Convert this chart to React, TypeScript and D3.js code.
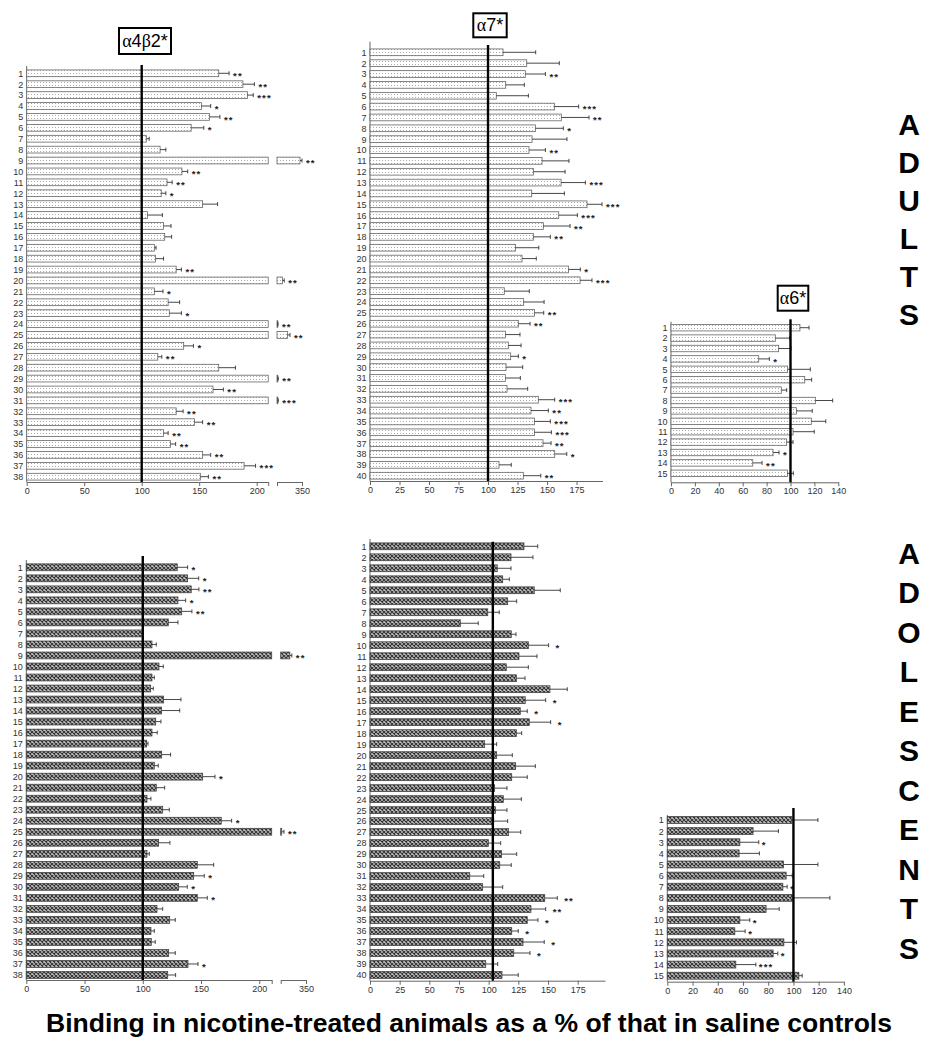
import React, { useEffect, useRef } from "react";
import * as d3 from "d3";

// Nicotinic receptor binding after nicotine, % of saline, adults (top) vs adolescents (bottom).

const ADULT_A4B2_MEAN = [167, 188, 192, 152, 159, 143, 104, 116, 346, 135, 122, 117, 153, 105, 119, 120, 111, 112, 130, 311, 111, 123, 124, 301, 321, 136.5, 114, 167, 301, 162, 301, 130, 146, 119, 125, 153, 189, 151];
const ADULT_A4B2_SEM = [9, 10, 5, 8, 9, 11, 2.5, 5, 4, 5, 4.5, 4, 13, 13, 6.5, 6, 1.5, 7, 4.5, 3.5, 7.5, 10, 10.5, 1, 5, 8.5, 3.5, 14.5, 1.5, 9, 1.5, 6, 7, 4, 4.5, 7, 10, 7];
const ADULT_A4B2_SIG = ["**", "**", "***", "*", "**", "*", "", "", "**", "**", "**", "*", "", "", "", "", "", "", "**", "**", "*", "", "*", "**", "**", "*", "**", "", "**", "**", "***", "**", "**", "**", "**", "**", "***", "**"];

const ADULT_A7_MEAN = [112.7, 132.8, 131.6, 115, 107, 156.2, 162.1, 140.1, 137.3, 134.7, 145.8, 138.4, 161.9, 137, 183.9, 159.9, 146.9, 138.4, 123.2, 128.8, 168.1, 178, 113.8, 130.2, 139.3, 125.7, 114.7, 117.2, 119.2, 115.3, 114.7, 116.1, 142.6, 136.4, 139.3, 139.3, 146.6, 156.5, 109.3, 129.9];
const ADULT_A7_SEM = [27.7, 27.6, 17, 15.8, 27.2, 20.6, 23.5, 23.7, 29.6, 13.9, 22.8, 26.9, 20.6, 27.7, 12.7, 15.8, 22.6, 14.4, 19.8, 12.1, 10.1, 10.1, 21.2, 17.3, 7.9, 9.9, 12.4, 10.8, 6.5, 14.1, 12.7, 17.5, 13.9, 14.7, 13.5, 14.4, 6.8, 10.2, 10.4, 14.8];
const ADULT_A7_SIG = ["", "", "**", "", "", "***", "**", "*", "", "**", "", "", "***", "", "***", "***", "**", "**", "", "", "*", "***", "", "", "**", "**", "", "", "*", "", "", "", "***", "**", "***", "***", "**", "*", "", "**"];

const ADULT_A6_MEAN = [107.9, 87.3, 90.1, 73.4, 97.6, 111.9, 92.3, 120.8, 104.9, 117.4, 102.1, 96.8, 85.4, 68.4, 97.4];
const ADULT_A6_SEM = [7.6, 12, 10.3, 8.9, 19, 5.8, 4.5, 14.5, 13.3, 12.1, 17.8, 5.3, 5, 7.8, 5];
const ADULT_A6_SIG = ["", "", "", "*", "", "", "", "", "", "", "", "", "*", "**", ""];

const ADOL_A4B2_MEAN = [129.6, 138.5, 141.6, 130.2, 133.4, 121.9, 99.9, 107.9, 318, 113.9, 107.9, 106.8, 117.9, 116.2, 111.1, 107.9, 103.3, 116.2, 109.9, 151.4, 111.6, 103.6, 117.1, 167.4, 302, 113.6, 103.6, 146.8, 143.7, 130.8, 146.8, 112.2, 123.1, 107, 107.3, 122.2, 138.8, 121.4];
const ADOL_A4B2_SEM = [8.9, 9.5, 6.6, 6.6, 8.8, 8.3, 0, 3.7, 4, 3.7, 2, 2.2, 14.9, 15.5, 4.5, 4.5, 1.2, 7.7, 3.4, 10.6, 7.2, 3.4, 5.7, 8.9, 4.5, 9.7, 2, 14.1, 9.1, 7.4, 8.6, 4.9, 4.8, 2.9, 3.4, 5.7, 8.6, 6.8];
const ADOL_A4B2_SIG = ["*", "*", "**", "*", "**", "", "", "", "**", "", "", "", "", "", "", "", "", "", "", "*", "", "", "", "*", "**", "", "", "", "*", "*", "*", "", "", "", "", "", "*", ""];

const ADOL_A7_MEAN = [129.7, 118.8, 107.2, 111.8, 138.4, 116, 99.2, 76.1, 119, 133.4, 125.5, 114.8, 123.3, 151.6, 130.8, 126.6, 134.2, 123.3, 96.6, 106.7, 122.7, 119.4, 105, 112.3, 105.6, 104.2, 116.8, 99.7, 110.9, 109.3, 84, 94.9, 147.2, 135.6, 132.5, 119.4, 128.9, 121.1, 97.5, 111.2];
const ADOL_A7_SEM = [11.6, 18.5, 11.6, 5.6, 21.9, 7.6, 9.7, 15.1, 4, 17.1, 15.2, 18.6, 7.3, 14.6, 17.2, 5.9, 18, 4.5, 10.1, 13.2, 16.6, 13.1, 10.4, 15.2, 9.8, 11.8, 10.2, 10.4, 12.7, 9.7, 11.8, 16.9, 10.6, 12.4, 9, 5.5, 17.9, 13.7, 10.1, 13.7];
const ADOL_A7_SIG = ["", "", "", "", "", "", "", "", "", "*", "", "", "", "", "*", "*", "*", "", "", "", "", "", "", "", "", "", "", "", "", "", "", "", "**", "**", "*", "*", "*", "*", "", ""];

const ADOL_A6_MEAN = [98.7, 68, 57.5, 56.9, 92.1, 94.2, 91.6, 99, 78.3, 57.5, 53.5, 92.4, 83.9, 54.3, 104.3];
const ADOL_A6_SEM = [20.7, 20.1, 15, 16.1, 27.3, 4.8, 3.4, 29.9, 10.4, 7.9, 8.2, 10, 3.7, 15.9, 2.6];
const ADOL_A6_SIG = ["", "", "*", "", "", "", "*", "", "", "*", "*", "", "*", "***", ""];

const TICKS_A4B2 = [0, 50, 100, 150, 200];
const TICKS_A7 = [0, 25, 50, 75, 100, 125, 150, 175];
const TICKS_A6 = [0, 20, 40, 60, 80, 100, 120, 140];
const BREAK_DOMAIN = [300, 350];

const ROW_LABELS = ["ADULTS", "ADOLESCENTS"];
const X_TITLE = "Binding in nicotine-treated animals as a % of that in saline controls";

const FONT = "'Liberation Sans', Arial, sans-serif";

type Panel = {
  mean: number[];
  sem: number[];
  sig: string[];
  ticks: number[];
  xMax: number;
  xLeft: number;
  xRight: number;
  brk?: [number, number];
  firstY: number;
  lastY: number;
  axisY: number;
  yTop: number;
  ref: number;
  refTop: number;
  adult: boolean;
  gap: number;
};

const panels: Panel[] = [
  { mean: ADULT_A4B2_MEAN, sem: ADULT_A4B2_SEM, sig: ADULT_A4B2_SIG, ticks: TICKS_A4B2, xMax: 210, xLeft: 26.7, xRight: 268.2, brk: [277, 302], firstY: 73.3, lastY: 476.7, axisY: 482, yTop: 66, ref: 100, refTop: 65, adult: true, gap: 4 },
  { mean: ADULT_A7_MEAN, sem: ADULT_A7_SEM, sig: ADULT_A7_SIG, ticks: TICKS_A7, xMax: 197, xLeft: 370, xRight: 602.5, firstY: 52.3, lastY: 475.7, axisY: 481, yTop: 41.7, ref: 100, refTop: 45, adult: true, gap: 4 },
  { mean: ADULT_A6_MEAN, sem: ADULT_A6_SEM, sig: ADULT_A6_SIG, ticks: TICKS_A6, xMax: 140, xLeft: 671, xRight: 838.3, firstY: 327.7, lastY: 473.3, axisY: 482.3, yTop: 321.7, ref: 100, refTop: 319.3, adult: true, gap: 4 },
  { mean: ADOL_A4B2_MEAN, sem: ADOL_A4B2_SEM, sig: ADOL_A4B2_SIG, ticks: TICKS_A4B2, xMax: 210.7, xLeft: 26.3, xRight: 271.7, brk: [280.7, 306], firstY: 567.3, lastY: 975, axisY: 980, yTop: 560, ref: 100, refTop: 556, adult: false, gap: 4 },
  { mean: ADOL_A7_MEAN, sem: ADOL_A7_SEM, sig: ADOL_A7_SIG, ticks: TICKS_A7, xMax: 198, xLeft: 370, xRight: 605, firstY: 546.3, lastY: 975, axisY: 980.7, yTop: 539, ref: 103.5, refTop: 541.7, adult: false, gap: 7 },
  { mean: ADOL_A6_MEAN, sem: ADOL_A6_SEM, sig: ADOL_A6_SIG, ticks: TICKS_A6, xMax: 140, xLeft: 667.3, xRight: 843.9, firstY: 820, lastY: 975.7, axisY: 981.7, yTop: 815, ref: 100, refTop: 808, adult: false, gap: 3 },
];

const titles = [
  { parts: [["α", true], ["4", false], ["β", true], ["2*", false]], x: 119, y: 28, w: 52, h: 26 },
  { parts: [["α", true], ["7*", false]], x: 473.3, y: 13.3, w: 33.4, h: 24 },
  { parts: [["α", true], ["6*", false]], x: 777.7, y: 285.7, w: 30.6, h: 25 },
];

function drawPanel(root: d3.Selection<SVGGElement, unknown, null, undefined>, p: Panel) {
  const g = root.append("g");
  const x = d3.scaleLinear().domain([0, p.xMax]).range([p.xLeft, p.xRight]);
  const xb = p.brk ? d3.scaleLinear().domain(BREAK_DOMAIN).range(p.brk) : null;
  const ids = p.mean.map((_, i) => String(i + 1));
  const y = d3.scalePoint().domain(ids).range([p.firstY, p.lastY]);
  const bh = y.step() * 0.62;
  const fill = p.adult ? "url(#dots)" : "url(#hatch)";
  const edge = p.adult ? "#666" : "#444";
  const lastTick = p.ticks[p.ticks.length - 1];

  const ax = g
    .append("g")
    .attr("transform", `translate(0,${p.axisY})`)
    .call(
      d3
        .axisBottom(x)
        .tickValues(p.brk ? [...p.ticks, p.xMax] : p.ticks)
        .tickFormat((d) => ((d as number) > lastTick ? "" : String(d)))
        .tickSize(4)
        .tickSizeOuter(0)
        .tickPadding(1.5)
    );
  const axes = [ax];
  if (xb) {
    axes.push(
      g
        .append("g")
        .attr("transform", `translate(0,${p.axisY})`)
        .call(
          d3
            .axisBottom(xb)
            .tickValues(BREAK_DOMAIN)
            .tickFormat((d) => (d === 350 ? "350" : ""))
            .tickSize(4)
            .tickSizeOuter(0)
            .tickPadding(1.5)
        )
    );
  }

  const ay = g
    .append("g")
    .attr("transform", `translate(${p.xLeft},0)`)
    .call(d3.axisLeft(y).tickSize(0).tickPadding(3.5));
  ay.select(".domain").remove();
  axes.push(ay);
  axes.forEach((a) => {
    a.attr("font-size", 9).attr("font-family", FONT);
    a.selectAll("path, line").attr("stroke", "#666");
    a.selectAll("text").attr("fill", "#333");
  });
  g.append("line")
    .attr("x1", p.xLeft)
    .attr("x2", p.xLeft)
    .attr("y1", p.yTop)
    .attr("y2", p.axisY)
    .attr("stroke", "#666");

  p.mean.forEach((v, i) => {
    const cy = y(String(i + 1)) as number;
    const broken = !!xb && v > p.xMax;
    const segs: [number, number][] = broken
      ? [[x(0), x(p.xMax)], [xb!(BREAK_DOMAIN[0]), xb!(v)]]
      : [[x(0), x(v)]];
    segs.forEach(([a, b]) => {
      g.append("rect")
        .attr("x", a)
        .attr("y", cy - bh / 2)
        .attr("width", Math.max(b - a, 0.8))
        .attr("height", bh)
        .attr("fill", fill)
        .attr("stroke", edge)
        .attr("stroke-width", 0.8);
    });
    const sx = broken ? xb! : x;
    const end = sx(v);
    const errEnd = sx(v + p.sem[i]);
    if (p.sem[i] > 0) {
      g.append("line")
        .attr("x1", end)
        .attr("x2", errEnd)
        .attr("y1", cy)
        .attr("y2", cy)
        .attr("stroke", "#333")
        .attr("stroke-width", 0.9);
      g.append("line")
        .attr("x1", errEnd)
        .attr("x2", errEnd)
        .attr("y1", cy - 2)
        .attr("y2", cy + 2)
        .attr("stroke", "#333")
        .attr("stroke-width", 0.9);
    }
    if (p.sig[i]) {
      g.append("text")
        .attr("x", Math.max(errEnd, end) + p.gap)
        .attr("y", cy + 5.6)
        .attr("font-size", 9.6)
        .attr("font-weight", "bold")
        .attr("letter-spacing", 1.1)
        .attr("font-family", FONT)
        .attr("fill", "#222")
        .text(p.sig[i]);
    }
  });

  g.append("line")
    .attr("x1", x(p.ref))
    .attr("x2", x(p.ref))
    .attr("y1", p.refTop)
    .attr("y2", p.axisY)
    .attr("stroke", "#000")
    .attr("stroke-width", 2.4);
}

export default function App() {
  const ref = useRef<SVGGElement>(null);

  useEffect(() => {
    const root = d3.select(ref.current as SVGGElement);
    root.selectAll("*").remove();
    panels.forEach((p) => drawPanel(root, p));
  }, []);

  return (
    <svg
      width={936}
      height={1052}
      style={{ position: "absolute", left: 0, top: 0, background: "#fff" }}
    >
      <defs>
        <pattern id="dots" patternUnits="userSpaceOnUse" width={3} height={3}>
          <rect width={3} height={3} fill="#fff" />
          <rect x={1} y={1} width={1} height={1} fill="#aaa" />
        </pattern>
        <pattern id="hatch" patternUnits="userSpaceOnUse" width={4} height={4}>
          <rect width={4} height={4} fill="#c4c4c4" />
          <path d="M0,0L4,4M4,0L0,4" stroke="#333" strokeWidth={1.1} />
        </pattern>
      </defs>
      <g ref={ref} />
      {titles.map((t, i) => (
        <g key={i}>
          <rect x={t.x} y={t.y} width={t.w} height={t.h} fill="#fff" stroke="#000" strokeWidth={2} />
          <text
            x={t.x + t.w / 2}
            y={t.y + t.h / 2 + 6}
            textAnchor="middle"
            fontSize={18}
            fontFamily={FONT}
            fill="#000"
          >
            {t.parts.map(([s, serif], j) => (
              <tspan key={j} fontFamily={serif ? "'Liberation Serif', serif" : FONT}>
                {s as string}
              </tspan>
            ))}
          </text>
        </g>
      ))}
      {ROW_LABELS[0].split("").map((c, i) => (
        <text key={"a" + i} x={909} y={124 + i * 38 + 10.7} textAnchor="middle" fontSize={30} fontWeight="bold" fontFamily={FONT}>
          {c}
        </text>
      ))}
      {ROW_LABELS[1].split("").map((c, i) => (
        <text key={"b" + i} x={909} y={553 + i * 39.5 + 10.7} textAnchor="middle" fontSize={30} fontWeight="bold" fontFamily={FONT}>
          {c}
        </text>
      ))}
      <text
        x={46}
        y={1032}
        fontSize={26.5}
        fontWeight="bold"
        fontFamily={FONT}
        textLength={846}
        lengthAdjust="spacingAndGlyphs"
      >
        {X_TITLE}
      </text>
    </svg>
  );
}
